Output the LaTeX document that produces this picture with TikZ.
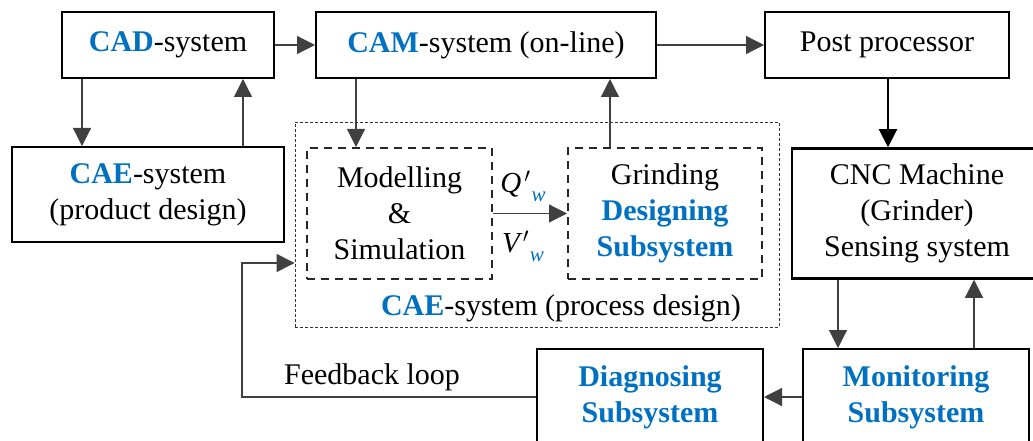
\documentclass[tikz,border=0pt]{standalone}
\usepackage{fontspec}
\setmainfont{Liberation Serif}
\usetikzlibrary{arrows.meta}
\definecolor{cblue}{HTML}{0070C0}
\newcommand{\hlt}[1]{\textcolor{cblue}{\textbf{#1}}}
\newcommand{\primed}[1]{{\itshape #1\kern3pt\raisebox{0.05em}{$'$}\kern1pt\raisebox{-0.3em}{\fontsize{21}{21}\selectfont\textcolor{cblue}{w}}}}
\begin{document}
\begin{tikzpicture}[x=1pt,y=-1pt,
  txt/.style={font=\fontsize{30}{36}\selectfont, align=center, inner sep=0pt},
  box/.style={txt, draw=black, line width=2pt},
  dbox/.style={txt, draw=black!85, line width=2pt, dash pattern=on 8pt off 6pt},
  conn/.style={line width=1.2pt, draw=black!75, -{Triangle[length=18pt,width=18pt]}}
]
\useasboundingbox (0,0) rectangle (1033,441);
\fill[white] (0,0) rectangle (1033,441);

% boxes
\node[box, minimum width=212pt, minimum height=66pt] (cad) at (168,45) {\hlt{CAD}-system};
\node[box, minimum width=340pt, minimum height=66pt] (cam) at (486,45) {\hlt{CAM}-system (on-line)};
\node[box, minimum width=244pt, minimum height=66pt] (post) at (887,45) {Post processor};
\node[box, minimum width=272pt, minimum height=95pt] (caep) at (148,194.5) {\hlt{CAE}-system\\(product design)};
\node[draw=black!80, line width=0.9pt, dash pattern=on 3pt off 2pt, minimum width=484pt, minimum height=205pt, inner sep=0pt] (caeproc) at (537,224.5) {};
\node[dbox, minimum width=185pt, minimum height=131pt] (model) at (399.5,213.5) {Modelling\\\&\\Simulation};
\node[dbox, minimum width=194pt, minimum height=131pt] (grind) at (665,213.5) {Grinding\\\hlt{Designing}\\\hlt{Subsystem}};
\node[box, line width=2.5pt, minimum width=250pt, minimum height=130pt] (cnc) at (917,213.5) {CNC Machine\\(Grinder)\\Sensing system};
\node[box, minimum width=226pt, minimum height=96pt] (mon) at (916,397) {\hlt{Monitoring}\\\hlt{Subsystem}};
\node[box, minimum width=226pt, minimum height=96pt] (diag) at (650,397) {\hlt{Diagnosing}\\\hlt{Subsystem}};

% labels
\node[txt] (proclbl) at (561,308) {\hlt{CAE}-system (process design)};
\node[txt] (fblbl) at (372,377) {Feedback loop};
\node[txt, font=\fontsize{29}{34}\selectfont] (qlbl) at (523,186) {\primed{Q}};
\node[txt, font=\fontsize{29}{34}\selectfont] (vlbl) at (523,246) {\primed{V}};

% helper coordinates
\coordinate (xa) at (82,0);
\coordinate (xb) at (243,0);
\coordinate (xc) at (356,0);
\coordinate (xd) at (610,0);
\coordinate (xe) at (888,0);
\coordinate (xf) at (838,0);
\coordinate (xg) at (974,0);
\coordinate (fbx) at (242,0);
\coordinate (fbtop) at (242,263);

% connectors
\draw[conn] (cad.east) -- (cam.west);
\draw[conn] (cam.east) -- (post.west);
\draw[conn] (cad.south -| xa) -- (caep.north -| xa);
\draw[conn] (caep.north -| xb) -- (cad.south -| xb);
\draw[conn] (cam.south -| xc) -- (model.north -| xc);
\draw[conn] (model.east) -- (grind.west);
\draw[conn] (grind.north -| xd) -- (cam.south -| xd);
\draw[conn, line width=2pt, draw=black] (post.south -| xe) -- (cnc.north -| xe);
\draw[conn] (cnc.south -| xf) -- (mon.north -| xf);
\draw[conn] (mon.north -| xg) -- (cnc.south -| xg);
\draw[conn] (mon.west) -- (diag.east);
\draw[conn] (diag.west) -- (diag.west -| fbx) -- (fbtop) -- (caeproc.west |- fbtop);
\end{tikzpicture}
\end{document}
